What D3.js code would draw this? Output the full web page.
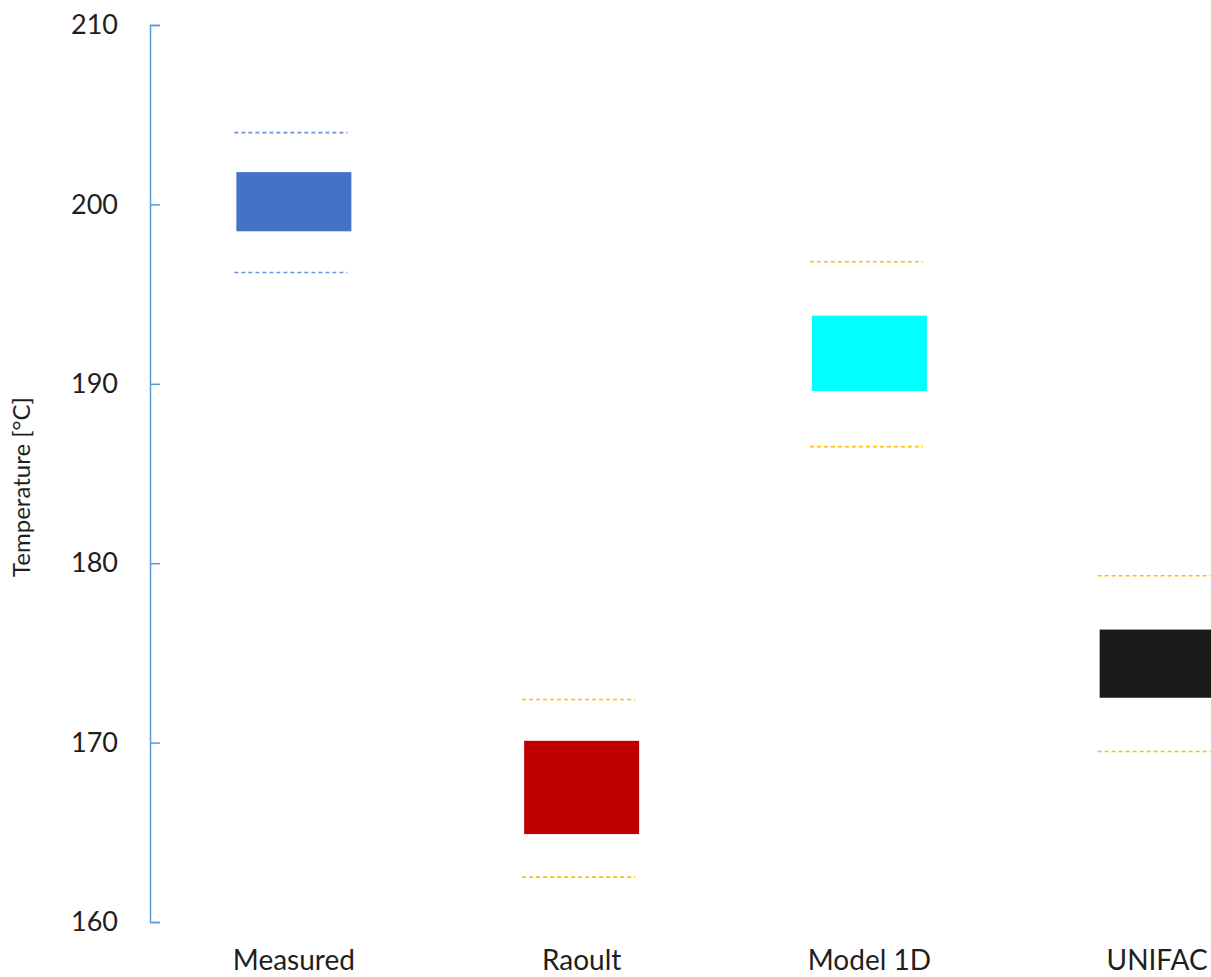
<!DOCTYPE html>
<html>
<head>
<meta charset="utf-8">
<script src="https://cdn.jsdelivr.net/npm/d3@7/dist/d3.min.js"></script>
<style>
  html, body { margin: 0; padding: 0; background: #fff; overflow: hidden; }
  svg { display: block; font-family: Lato, "Open Sans", sans-serif; }
</style>
</head>
<body>
<svg id="chart" width="1211" height="977"></svg>
<script>
// Boiling-range comparison: measured vs. predicted temperatures
const categories = ["Measured", "Raoult", "Model 1D", "UNIFAC"];
const boxLow     = [198.5, 164.9, 189.6, 172.5];
const boxHigh    = [201.8, 170.1, 193.8, 176.3];
const limitLow   = [196.2, 162.5, 186.5, 169.5];
const limitHigh  = [204.0, 172.4, 196.8, 179.3];
const boxColors   = ["#4472C4", "#C00000", "#00FFFF", "#1A1A1A"];
const limitColors = ["#6E93D6", "#FFC000", "#FFC000", "#FFC000"];
const yTicks = [160, 170, 180, 190, 200, 210];

const svg = d3.select("#chart");

const y = d3.scaleLinear().domain([160, 210]).range([922, 25]);
const x = d3.scalePoint().domain(categories).range([150, 1301]).padding(0.5);
const barW = 115;

const rows = categories.map((c, i) => ({
  c, lo: boxLow[i], hi: boxHigh[i], llo: limitLow[i], lhi: limitHigh[i],
  fill: boxColors[i], lim: limitColors[i]
}));

// Y axis (ticks point into the plot)
const yAxis = d3.axisLeft(y).tickValues(yTicks).tickSize(-10).tickPadding(32);
const gy = svg.append("g").attr("transform", "translate(150,0)").call(yAxis);
gy.selectAll("path, line").attr("stroke", "#5B9BD5").attr("stroke-width", 1.5);
gy.selectAll("text").attr("fill", "#1f1f1f").style("font-size", "27px")
  .style("font-family", "Lato, 'Open Sans', sans-serif");

// Y title
svg.append("text")
  .attr("transform", "translate(30,487) rotate(-90)")
  .attr("text-anchor", "middle")
  .attr("fill", "#1f1f1f")
  .style("font-size", "24px")
  .text("Temperature [°C]");

// Category labels
svg.append("g").selectAll("text").data(rows).join("text")
  .attr("x", d => x(d.c))
  .attr("y", 970)
  .attr("text-anchor", "middle")
  .attr("fill", "#1f1f1f")
  .style("font-size", "28px")
  .text(d => d.c);

// Dotted limit lines
const limits = svg.append("g");
rows.forEach(d => {
  [d.llo, d.lhi].forEach(v => {
    limits.append("line")
      .attr("x1", x(d.c) - barW / 2 - 2)
      .attr("x2", x(d.c) + barW / 2 - 4)
      .attr("y1", y(v)).attr("y2", y(v))
      .attr("stroke", d.lim)
      .attr("stroke-width", 1.6)
      .attr("stroke-dasharray", "4,3");
  });
});

// Range boxes
svg.append("g").selectAll("rect").data(rows).join("rect")
  .attr("x", d => x(d.c) - barW / 2)
  .attr("width", barW)
  .attr("y", d => y(d.hi))
  .attr("height", d => y(d.lo) - y(d.hi))
  .attr("fill", d => d.fill);
</script>
</body>
</html>
